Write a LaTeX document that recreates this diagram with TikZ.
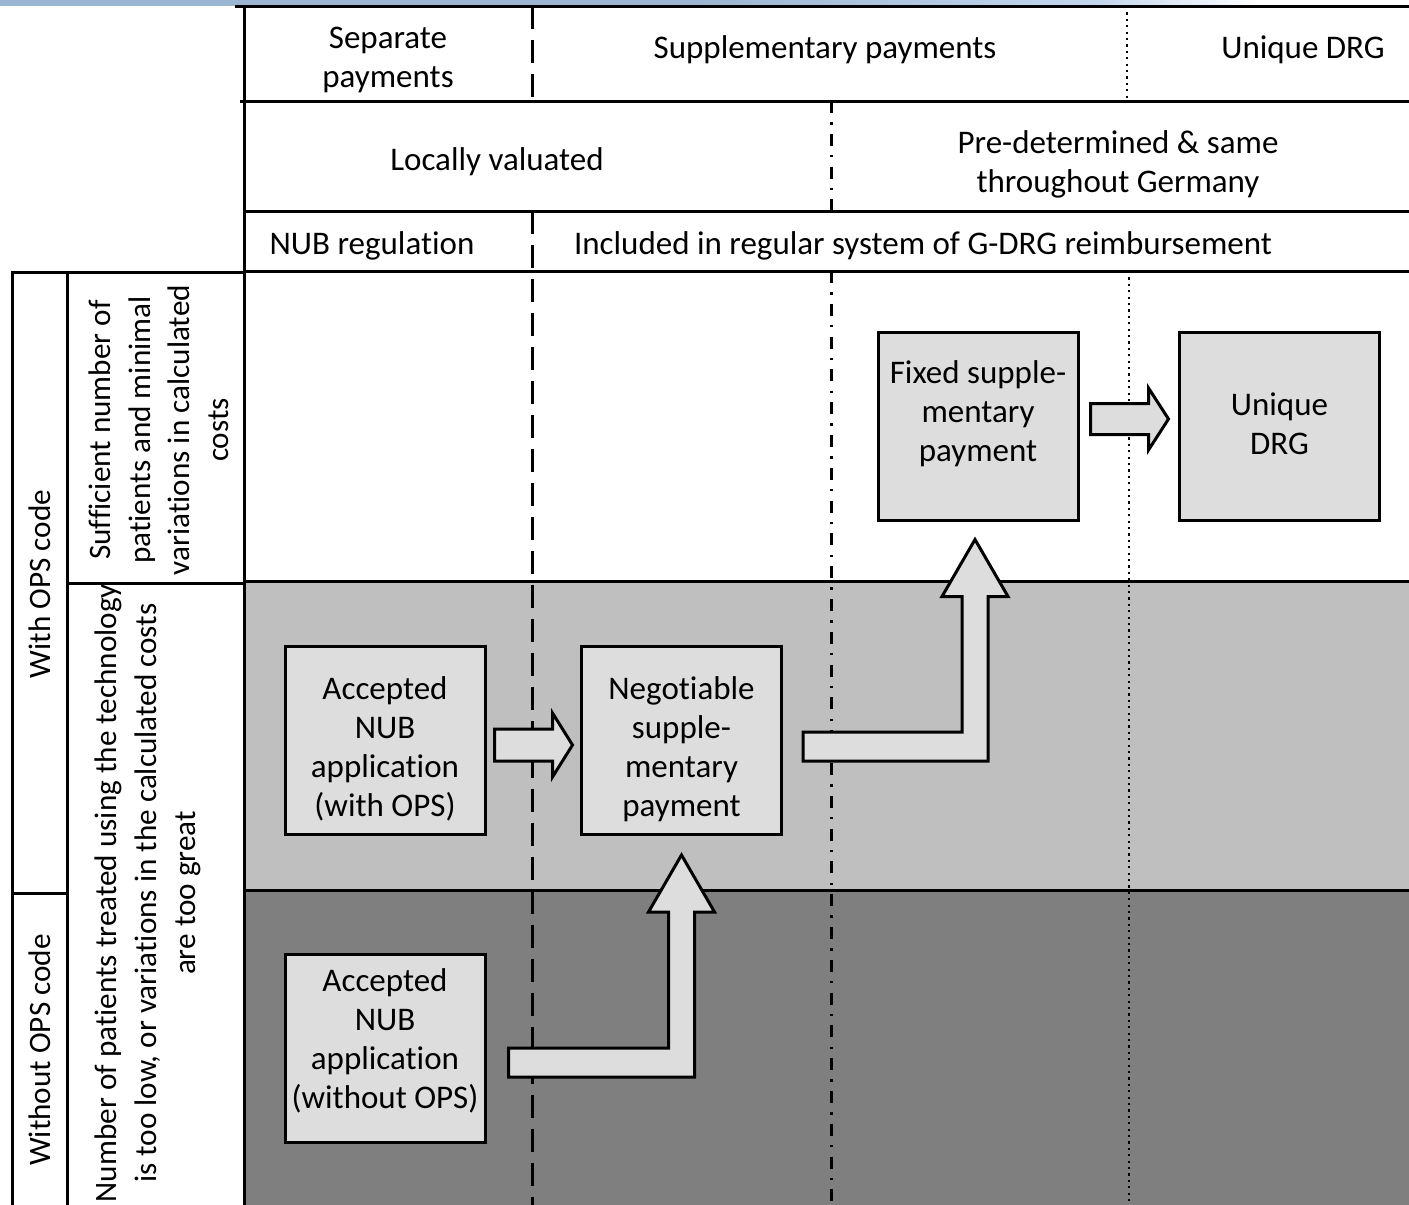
\documentclass[tikz,border=0pt]{standalone}
\usepackage{fontspec}
\setmainfont{Carlito}[Ligatures=NoCommon]
\usetikzlibrary{calc}
\definecolor{bandL}{RGB}{155,182,210}
\definecolor{bandM}{RGB}{196,214,238}
\definecolor{lightrow}{RGB}{191,191,191}
\definecolor{darkrow}{RGB}{127,127,127}
\definecolor{boxfill}{RGB}{221,221,221}
\begin{document}
\begin{tikzpicture}[x=0.5pt,y=-0.5pt,
  every node/.style={font=\fontsize{16.5}{19.5}\selectfont, align=center, inner sep=0pt},
  sidelabel/.style={rotate=90, font=\fontsize{15.6}{19.6}\selectfont},
  grid/.style={line width=1.5pt},
  cellbox/.style={draw, line width=1.5pt, fill=boxfill, minimum width=100pt, minimum height=94pt},
  blockarrow/.style={draw, line width=1.5pt, fill=boxfill, line join=miter},
  dashsep/.style={line width=1.5pt, dash pattern=on 11.5pt off 5.5pt},
  dashdotsep/.style={line width=1.5pt, dash pattern=on 6pt off 4.6pt on 1.2pt off 4.6pt},
  dotsep/.style={line width=1.4pt, dash pattern=on 1.1pt off 2.1pt},
]
\useasboundingbox (0,0) rectangle (1409,1205);

% thin coloured band along the top edge
\fill[bandL] (0,0) rectangle (700,6);
\shade[left color=bandL, right color=bandM] (700,0) rectangle (1100,6);
\shade[left color=bandM, right color=white] (1100,0) rectangle (1260,6);

% shaded rows
\fill[lightrow] (244,581) rectangle (1409,890);
\fill[darkrow] (244,890) rectangle (1409,1205);

% grid of the table
\draw[grid] (235,6) -- (1409,6);
\draw[grid] (240,101) -- (1409,101);
\draw[grid] (244,211) -- (1409,211);
\draw[grid] (244,271) -- (1409,271);
\draw[grid] (244,581) -- (1409,581);
\draw[grid] (244,890) -- (1409,890);
\draw[grid] (244,6) -- (244,1205);

% row headers on the left
\draw[grid] (12,1205) -- (12,272) -- (245,272);
\draw[grid] (67,272) -- (67,1205);
\draw[grid] (67,583) -- (245,583);
\draw[grid] (12,893) -- (67,893);

% column separators
\draw[dashsep] (532,6) -- (532,101);
\draw[dashsep] (532,211) -- (532,1205);
\draw[dashdotsep] (831,101) -- (831,211);
\draw[dashdotsep] (831,271) -- (831,1205);
\draw[dotsep] (1127,6) -- (1127,101);
\draw[dotsep] (1129,271) -- (1129,1205);

% header texts
\node (hsep) at (388,59.5) {Separate\\payments};
\node (hsup) at (825,49.5) {Supplementary payments};
\node (hdrg) at (1303,49.5) {Unique DRG};
\node (hloc) at (497,162) {Locally valuated};
\node (hpre) at (1118,164) {Pre-determined \& same\\throughout Germany};
\node (hnub) at (372,246) {NUB regulation};
\node (hinc) at (923,246) {Included in regular system of G-DRG reimbursement};

% rotated row labels
\node[sidelabel] (withops) at (40,584) {With OPS code};
\node[sidelabel] (withoutops) at (40,1050) {Without OPS code};
\node[sidelabel] (suff) at (159,430) {Sufficient number of\\patients and minimal\\variations in calculated\\costs};
\node[sidelabel] (few) at (148,893) {Number of patients treated using the technology\\is too low, or variations in the calculated costs\\are too great};

% payment boxes
\node[cellbox] (fixed) at (978,426) {};
\node (fixedtxt) at (978,414) {Fixed supple-\\mentary\\payment};
\node[cellbox] (unique) at (1279.5,426) {};
\node (uniquetxt) at (1279.5,424) {Unique\\DRG};
\node[cellbox] (acc1) at (385,740.5) {};
\node (acc1txt) at (385,749) {Accepted\\NUB\\application\\(with OPS)};
\node[cellbox] (neg) at (681.5,740.5) {};
\node (negtxt) at (681.5,749) {Negotiable\\supple-\\mentary\\payment};
\node[cellbox] (acc2) at (385,1048.5) {};
\node (acc2txt) at (385,1041) {Accepted\\NUB\\application\\(without OPS)};

% straight block arrows
\coordinate (r1) at ($(acc1.east)+(8,4.5)$);
\draw[blockarrow] ($(r1)+(0,-16)$) -- ++(58,0) -- ++(0,-16) -- ++(20,32) -- ++(-20,32) -- ++(0,-16) -- ++(-58,0) -- cycle;
\coordinate (r2) at ($(fixed.east)+(11,-7)$);
\draw[blockarrow] ($(r2)+(0,-15.5)$) -- ++(58,0) -- ++(0,-15.5) -- ++(20,31) -- ++(-20,31) -- ++(0,-15.5) -- ++(-58,0) -- cycle;

% bent block arrows
\coordinate (l1s) at ($(neg.east)+(20,6)$);
\coordinate (l1t) at ($(fixed.south)+(-3,18)$);
\coordinate (l1c) at (l1s -| l1t);
\draw[blockarrow] ($(l1s)+(0,-14.5)$) -- ($(l1c)+(-13,-14.5)$) -- ($(l1t)+(-13,57)$) -- ($(l1t)+(-33,57)$) -- (l1t) -- ($(l1t)+(33,57)$) -- ($(l1t)+(13,57)$) -- ($(l1c)+(13,14.5)$) -- ($(l1s)+(0,14.5)$) -- cycle;

\coordinate (l2s) at ($(acc2.east)+(22,14)$);
\coordinate (l2t) at ($(neg.south)+(0,19)$);
\coordinate (l2c) at (l2s -| l2t);
\draw[blockarrow] ($(l2s)+(0,-14.5)$) -- ($(l2c)+(-13,-14.5)$) -- ($(l2t)+(-13,57)$) -- ($(l2t)+(-33,57)$) -- (l2t) -- ($(l2t)+(33,57)$) -- ($(l2t)+(13,57)$) -- ($(l2c)+(13,14.5)$) -- ($(l2s)+(0,14.5)$) -- cycle;
\end{tikzpicture}
\end{document}
